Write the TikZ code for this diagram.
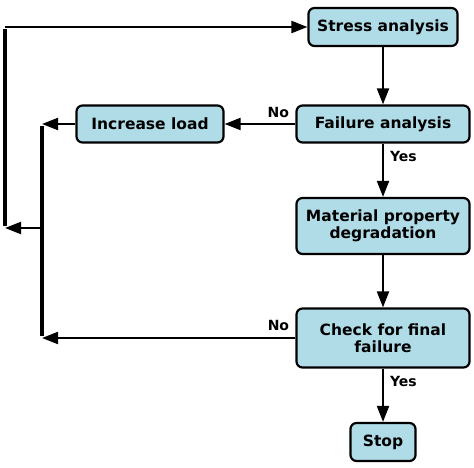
\documentclass[tikz,border=0pt]{standalone}
\usepackage{fontspec}
\setmainfont{DejaVu Sans}
\usetikzlibrary{
    positioning,
    arrows.meta
}
\definecolor{boxblue}{RGB}{176,220,232}
\tikzset{
    >={Triangle[length=16pt,width=12pt]},
    paso/.style={
        draw,
        line width=2.2pt,
        rounded corners=6pt,
        fill=boxblue,
        align=center,
        inner sep=2pt,
        font=\fontsize{15.5}{16.5}\selectfont\bfseries
    },
    etiqueta/.style={
        font=\fontsize{14}{15}\selectfont\bfseries,
        inner sep=1pt
    },
    flecha/.style={
        line width=2pt
    },
    riel/.style={
        line width=4pt
    }
}

\begin{document}
\begin{tikzpicture}[
    x=1pt,
    y=-1pt
]
    \useasboundingbox (0,0) rectangle (474,468);

    % Pasos
    \node[paso, minimum width=149pt, minimum height=38pt] (stress)  at (383,27)  {Stress analysis};
    \node[paso, minimum width=173pt, minimum height=37pt] (failure) at (383,124) {Failure analysis};
    \node[paso, minimum width=147pt, minimum height=37pt] (load)    at (150,124) {Increase load};
    \node[paso, minimum width=173pt, minimum height=56pt] (degrad)  at (383,226) {Material property\\degradation};
    \node[paso, minimum width=173pt, minimum height=59pt] (check)   at (383,338) {Check for final\\failure};
    \node[paso, minimum width=65pt,  minimum height=38pt] (stop)    at (383,442) {Stop};

    % Puntos de retorno
    \coordinate (inTop) at (42,124);
    \coordinate (inMid) at (42,228);
    \coordinate (inBot) at (42,338);
    \coordinate (outMid) at (5,228);
    \coordinate (outTop) at (5,27);

    % Flujo principal
    \draw[flecha, ->] (stress) -- (failure);
    \draw[flecha, ->] (failure) -- node[etiqueta, pos=0.24, above=4pt] {No} (load);
    \draw[flecha, ->] (failure) -- node[etiqueta, pos=0.25, right=5pt] {Yes} (degrad);
    \draw[flecha, ->] (degrad) -- (check);
    \draw[flecha, ->] (check) -- node[etiqueta, pos=0.24, right=5pt] {Yes} (stop);

    % Retornos
    \draw[flecha, ->] (load) -- (inTop);
    \draw[flecha, ->] (check) -- node[etiqueta, pos=0.067, above=5pt] {No} (inBot);
    \draw[riel] ([yshift=-2pt]inTop) -- ([yshift=2pt]inBot);
    \draw[flecha, ->] (inMid) -- (outMid);
    \draw[riel] ([yshift=2pt]outMid) -- ([yshift=-2pt]outTop);
    \draw[flecha, ->] (outTop) -- (stress);

\end{tikzpicture}
\end{document}
